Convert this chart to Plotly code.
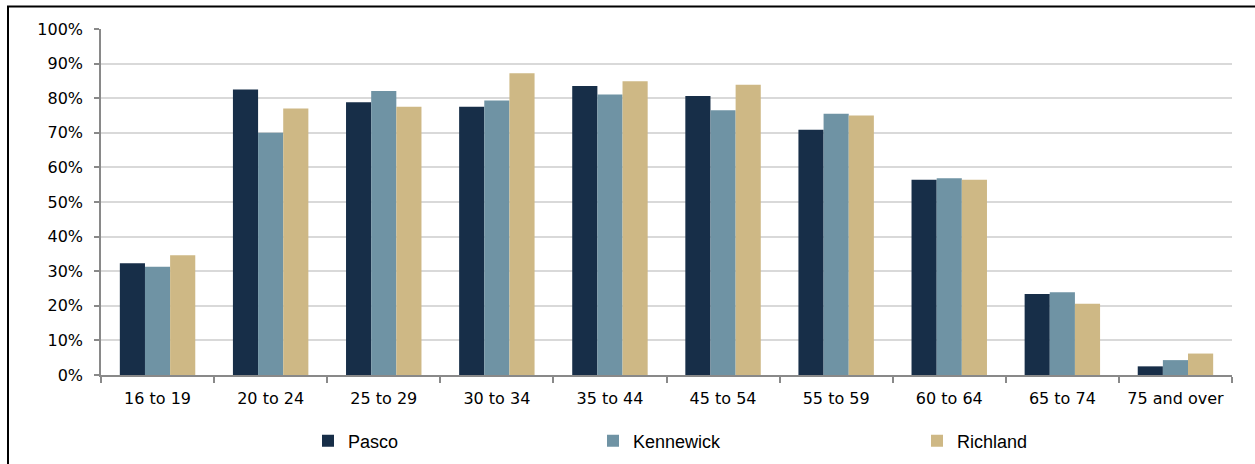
import plotly.graph_objects as go

categories = ["16 to 19", "20 to 24", "25 to 29", "30 to 34", "35 to 44",
              "45 to 54", "55 to 59", "60 to 64", "65 to 74", "75 and over"]
pasco = [32.3, 82.5, 78.8, 77.5, 83.5, 80.6, 70.9, 56.4, 23.4, 2.5]
kennewick = [31.3, 70.0, 82.1, 79.3, 81.1, 76.5, 75.5, 56.9, 23.9, 4.3]
richland = [34.6, 77.0, 77.5, 87.2, 84.9, 83.9, 75.0, 56.4, 20.6, 6.2]
series_names = ["Pasco", "Kennewick", "Richland"]
colors = ["#172E48", "#6F93A4", "#CEB885"]
yticks = [0, 10, 20, 30, 40, 50, 60, 70, 80, 90, 100]

fig = go.Figure()
legends = ["legend", "legend2", "legend3"]
for name, vals, col, lg in zip(series_names, [pasco, kennewick, richland], colors, legends):
    fig.add_bar(x=categories, y=vals, name=name, marker_color=col,
                marker_line_width=0, legend=lg, showlegend=True)

W, H = 1255, 464
L, R, T, B = 101, 23, 29, 89
pw, ph = W - L - R, H - T - B

def px2x(p):
    return (p - L) / pw

def py2y(p):
    return (H - B - p) / ph

legend_font = dict(family="Liberation Sans, Arial", size=18, color="#000000")
common = dict(orientation="h", yanchor="middle", xanchor="left",
              xref="container", yref="container", y=1 - 441 / H,
              font=legend_font, bgcolor="rgba(0,0,0,0)", itemwidth=30)

tick_font = dict(family="DejaVu Sans, Verdana", size=16, color="#000000")

fig.update_layout(
    width=W, height=H,
    margin=dict(l=L, r=R, t=T, b=B, autoexpand=False),
    paper_bgcolor="white", plot_bgcolor="white",
    showlegend=True,
    barmode="group", bargap=0.333, bargroupgap=0,
    font=dict(family="DejaVu Sans", size=16, color="#000000"),
    legend=dict(x=308 / W, **common),
    legend2=dict(x=593 / W, **common),
    legend3=dict(x=917 / W, **common),
    xaxis=dict(
        type="category", tickson="boundaries", ticks="outside", ticklen=6,
        tickcolor="#898989", tickwidth=1.5,
        showline=True, linecolor="#898989", linewidth=1.5,
        showgrid=False, tickfont=tick_font, ticklabelstandoff=8,
    ),
    yaxis=dict(
        range=[0, 100], tickvals=yticks, ticktext=[f"{v}%" for v in yticks],
        ticks="outside", ticklen=5, tickcolor="#898989", tickwidth=1.5,
        showline=True, linecolor="#898989", linewidth=1.5,
        showgrid=True, gridcolor="#D9D9D9", gridwidth=1.5,
        zeroline=False, tickfont=tick_font, ticklabelstandoff=8,
    ),
    shapes=[dict(type="rect", xref="paper", yref="paper",
                 x0=px2x(8), x1=px2x(1262), y0=py2y(470), y1=py2y(6.5),
                 line=dict(color="#000000", width=2), fillcolor="rgba(0,0,0,0)", layer="below")],
)

fig.write_html("out.html", config={"displayModeBar": False},
               post_script="document.body.style.margin='0';")
